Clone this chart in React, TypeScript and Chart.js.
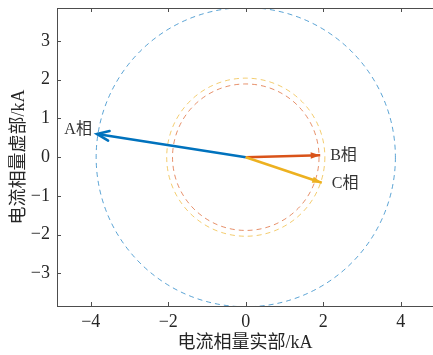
import React, { useEffect, useRef } from "react";
import { Chart, registerables } from "chart.js";

Chart.register(...registerables);

// ---- data ----
const phaseLabels = ["A相", "B相", "C相"];
const phaseReal = [-3.84, 1.92, 1.96];
const phaseImag = [0.6, 0.05, -0.66];
const phaseColors = ["#0072BD", "#D95319", "#EDB120"];

const circleRadii = [3.86, 1.89, 2.04];
const circleColors = ["rgba(0,114,189,0.65)", "rgba(217,83,25,0.65)", "rgba(237,177,32,0.65)"];

const xTicks = [-4, -2, 0, 2, 4];
const yTicks = [-3, -2, -1, 0, 1, 2, 3];

const xTitle = "电流相量实部/kA";
const yTitle = "电流相量虚部/kA";

const FONT = "'Liberation Serif', 'Noto Sans CJK SC', serif";
const AXIS_COLOR = "#4d4d4d";
const TEXT_COLOR = "#262626";

const fmt = (v: number) => String(v).replace("-", "\u2212");

const phasorPlugin = {
  id: "phasor",
  beforeDatasetsDraw(chart: any) {
    const { ctx, chartArea, scales } = chart;
    const xs = scales.x, ys = scales.y;
    ctx.save();
    ctx.beginPath();
    ctx.rect(chartArea.left, chartArea.top, chartArea.right - chartArea.left, chartArea.bottom - chartArea.top);
    ctx.clip();
    const cx = xs.getPixelForValue(0), cy = ys.getPixelForValue(0);
    circleRadii.forEach((r, i) => {
      const rx = Math.abs(xs.getPixelForValue(r) - cx);
      const ry = Math.abs(ys.getPixelForValue(r) - cy);
      ctx.beginPath();
      ctx.setLineDash([5, 4]);
      ctx.lineWidth = 1;
      ctx.strokeStyle = circleColors[i];
      ctx.ellipse(cx, cy, rx, ry, 0, 0, Math.PI * 2);
      ctx.stroke();
    });
    ctx.restore();
  },
  afterDatasetsDraw(chart: any) {
    const { ctx, scales } = chart;
    const xs = scales.x, ys = scales.y;
    const ox = xs.getPixelForValue(0), oy = ys.getPixelForValue(0);
    ctx.save();
    ctx.setLineDash([]);
    phaseReal.forEach((re, i) => {
      const tx = xs.getPixelForValue(re), ty = ys.getPixelForValue(phaseImag[i]);
      const ang = Math.atan2(ty - oy, tx - ox);
      const len = i === 0 ? 13 : 10;
      const spread = i === 0 ? 0.38 : 0.32;
      const p1x = tx - len * Math.cos(ang - spread), p1y = ty - len * Math.sin(ang - spread);
      const p2x = tx - len * Math.cos(ang + spread), p2y = ty - len * Math.sin(ang + spread);
      ctx.strokeStyle = phaseColors[i];
      ctx.fillStyle = phaseColors[i];
      ctx.lineWidth = 2.5;
      ctx.lineCap = "round";
      if (i === 0) {
        ctx.beginPath();
        ctx.moveTo(p1x, p1y);
        ctx.lineTo(tx, ty);
        ctx.lineTo(p2x, p2y);
        ctx.stroke();
      } else {
        ctx.beginPath();
        ctx.moveTo(tx, ty);
        ctx.lineTo(p1x, p1y);
        ctx.lineTo(p2x, p2y);
        ctx.closePath();
        ctx.fill();
      }
    });
    // labels
    ctx.font = `16px ${FONT}`;
    ctx.fillStyle = "#333333";
    ctx.textBaseline = "middle";
    phaseLabels.forEach((lab, i) => {
      const tx = xs.getPixelForValue(phaseReal[i]), ty = ys.getPixelForValue(phaseImag[i]);
      if (phaseReal[i] < 0) {
        ctx.textAlign = "right";
        ctx.fillText(lab, tx - 5, ty - 4);
      } else {
        ctx.textAlign = "left";
        ctx.fillText(lab, tx + 10, ty + 1);
      }
    });
    ctx.restore();
  },
  afterDraw(chart: any) {
    const { ctx, chartArea, scales } = chart;
    ctx.save();
    ctx.strokeStyle = AXIS_COLOR;
    ctx.lineWidth = 1;
    // top border
    ctx.beginPath();
    ctx.moveTo(chartArea.left, chartArea.top + 0.5);
    ctx.lineTo(chartArea.right, chartArea.top + 0.5);
    ctx.stroke();
    // inward ticks
    const tl = 4;
    xTicks.forEach((v) => {
      const px = Math.round(scales.x.getPixelForValue(v)) + 0.5;
      ctx.beginPath();
      ctx.moveTo(px, chartArea.bottom);
      ctx.lineTo(px, chartArea.bottom - tl);
      ctx.moveTo(px, chartArea.top);
      ctx.lineTo(px, chartArea.top + tl);
      ctx.stroke();
    });
    yTicks.forEach((v) => {
      const py = Math.round(scales.y.getPixelForValue(v)) + 0.5;
      ctx.beginPath();
      ctx.moveTo(chartArea.left, py);
      ctx.lineTo(chartArea.left + tl, py);
      ctx.stroke();
    });
    ctx.restore();
  },
};

export default function App() {
  const canvasRef = useRef<HTMLCanvasElement | null>(null);

  useEffect(() => {
    document.body.style.margin = "0";
    const canvas = canvasRef.current;
    if (!canvas) return;
    const datasets = phaseReal.map((re, i) => ({
      label: phaseLabels[i],
      data: [
        { x: 0, y: 0 },
        { x: re, y: phaseImag[i] },
      ],
      showLine: true,
      borderColor: phaseColors[i],
      backgroundColor: phaseColors[i],
      borderWidth: 2.6,
      pointRadius: 0,
      order: 3 - i,
    }));
    const chart = new Chart(canvas, {
      type: "scatter",
      data: { datasets },
      options: {
        animation: false,
        responsive: false,
        maintainAspectRatio: false,
        layout: { padding: { top: 8, right: 0, bottom: 0, left: 0 } },
        plugins: {
          legend: { display: false },
          tooltip: { enabled: false },
        },
        scales: {
          x: {
            type: "linear",
            min: -4.87,
            max: 4.83,
            afterBuildTicks: (s: any) => {
              s.ticks = xTicks.map((v) => ({ value: v }));
            },
            afterFit: (s: any) => {
              s.height = 49;
              s.paddingLeft = 0;
              s.paddingRight = 0;
            },
            grid: { display: false, drawTicks: false },
            border: { display: true, color: AXIS_COLOR, width: 1 },
            ticks: {
              padding: 5,
              color: TEXT_COLOR,
              font: { family: FONT, size: 18 },
              callback: (v: any) => fmt(Number(v)),
              maxRotation: 0,
              autoSkip: false,
            },
            title: {
              display: true,
              text: xTitle,
              color: TEXT_COLOR,
              font: { family: FONT, size: 18 },
              padding: { top: 0, bottom: 1 },
            },
          },
          y: {
            type: "linear",
            min: -3.84,
            max: 3.85,
            afterBuildTicks: (s: any) => {
              s.ticks = yTicks.map((v) => ({ value: v }));
            },
            afterFit: (s: any) => {
              s.width = 57;
              s.paddingTop = 0;
              s.paddingBottom = 0;
            },
            grid: { display: false, drawTicks: false },
            border: { display: true, color: AXIS_COLOR, width: 1 },
            ticks: {
              padding: 7,
              color: TEXT_COLOR,
              font: { family: FONT, size: 18 },
              callback: (v: any) => fmt(Number(v)),
              autoSkip: false,
            },
            title: {
              display: true,
              text: yTitle,
              color: TEXT_COLOR,
              font: { family: FONT, size: 18 },
              padding: { top: 8, bottom: 0 },
            },
          },
        },
      },
      plugins: [phasorPlugin],
    } as any);
    return () => chart.destroy();
  }, []);

  return (
    <div style={{ position: "fixed", left: 0, top: 0, width: 433, height: 355, background: "#fff" }}>
      <canvas ref={canvasRef} width={433} height={355} style={{ width: 433, height: 355, display: "block" }} />
    </div>
  );
}
